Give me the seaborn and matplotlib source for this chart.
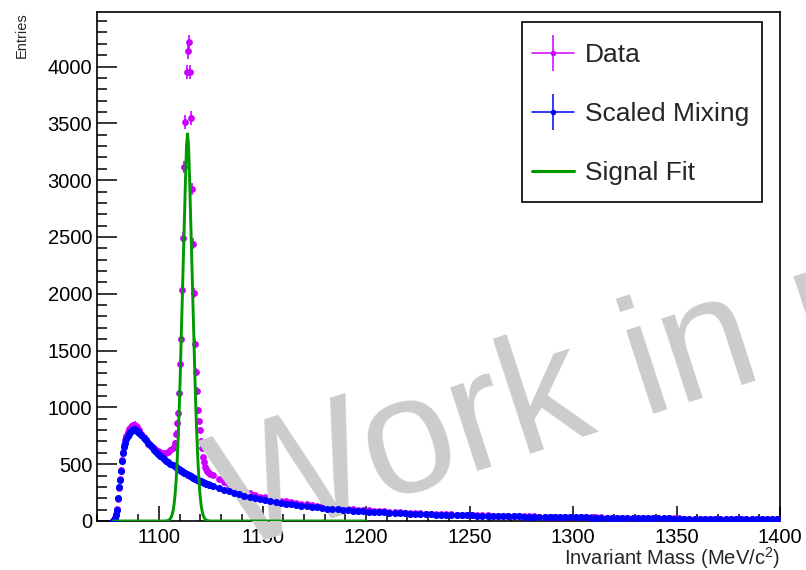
import numpy as np
import matplotlib
matplotlib.use("Agg")
import matplotlib.pyplot as plt
import seaborn as sns
from matplotlib.lines import Line2D
from matplotlib.legend_handler import HandlerTuple
from matplotlib.patches import Rectangle
from matplotlib.ticker import MultipleLocator

# ---------------- data (bin centres in MeV/c^2, entries) ----------------
mass_rise = np.arange(1077.75, 1090.0, 0.5)   # 25 bins, 0.5 MeV
mass_side = np.arange(1090.5, 1108.0, 1.0)    # 18 bins
mass_peak = np.arange(1108.25, 1125.0, 0.5)   # 34 bins
mass_tail = np.arange(1126.25, 1399.0, 2.5)   # 110 bins

data_rise = [2, 10, 28, 60, 110, 190, 290, 372, 452, 540,
             610, 668, 712, 752, 785, 806, 822, 830, 838, 846,
             840, 848, 832, 826, 810]
data_side = [800, 770, 741, 712, 680, 668, 655, 640, 626, 612,
             604, 596, 595, 600, 609, 622, 645, 690]
data_peak = [770, 859, 947, 1123, 1386, 1600, 2031, 2494, 3115, 3510,
             3950, 4134, 4214, 3950, 3546, 2925, 2441, 2007, 1562, 1313,
             1145, 976, 880, 800, 700, 640, 560, 520, 477, 455,
             440, 433, 420, 410]
data_tail = [402, 370, 345, 318, 300, 282, 262, 245, 232, 214,
             210, 198, 190, 178, 172, 166, 158, 150, 146, 138,
             133, 130, 122, 118, 116, 110, 106, 103, 99, 96,
             93, 89, 88, 84, 82, 79, 78, 74, 72, 70,
             68, 66, 65, 62, 61, 60, 58, 57, 55, 54,
             53, 51, 51, 49, 48, 47, 46, 45, 44, 43,
             42, 40, 41, 39, 38, 37, 38, 36, 35, 34,
             34, 33, 32, 32, 31, 31, 30, 30, 29, 29,
             28, 28, 27, 27, 26, 25, 26, 24, 24, 23,
             23, 22, 22, 21, 21, 21, 20, 20, 19, 19,
             19, 18, 18, 17, 17, 17, 16, 16, 16, 15]

mix_rise = [3, 12, 30, 55, 100, 200, 300, 365, 440, 525,
            598, 648, 690, 724, 750, 768, 782, 793, 800, 805,
            806, 803, 798, 792, 786]
mix_side = [775, 755, 733, 711, 689, 668, 647, 627, 609, 591,
            575, 559, 545, 531, 518, 505, 492, 480]
mix_peak = [474, 468, 462, 455, 449, 443, 437, 431, 425, 419,
            413, 408, 402, 397, 392, 387, 382, 377, 373, 368,
            364, 360, 356, 352, 348, 344, 340, 336, 333, 330,
            327, 323, 320, 317]
mix_tail = [309, 292, 277, 262, 248, 235, 223, 212, 202, 193,
            184, 176, 168, 161, 154, 147, 141, 135, 129, 124,
            119, 114, 110, 106, 102, 98, 95, 91, 88, 85,
            82, 80, 77, 75, 73, 71, 69, 67, 65, 63,
            62, 60, 59, 57, 56, 55, 53, 52, 51, 50,
            49, 48, 47, 46, 45, 44, 43, 42, 41, 40,
            39, 38, 38, 37, 36, 35, 35, 34, 33, 32,
            32, 31, 31, 30, 30, 29, 29, 28, 28, 27,
            27, 26, 26, 25, 25, 24, 24, 23, 23, 22,
            22, 21, 21, 20, 20, 20, 19, 19, 18, 18,
            18, 17, 17, 16, 16, 16, 15, 15, 15, 14]

fit_mass = [1078.0, 1102.75, 1103.75, 1104.75, 1105.25, 1105.75, 1106.25, 1106.75,
            1107.25, 1107.75, 1108.25, 1108.75, 1109.25, 1109.75, 1110.25, 1110.75,
            1111.25, 1111.75, 1112.25, 1112.75, 1113.25, 1113.75, 1114.25, 1114.75,
            1115.25, 1115.75, 1116.25, 1116.75, 1117.25, 1117.75, 1118.25, 1118.75,
            1119.25, 1119.75, 1120.25, 1120.75, 1121.25, 1121.75, 1122.25, 1122.75,
            1123.75, 1124.75, 1200.0]
fit_vals = [0, 0, 2, 8, 16, 30, 53, 90,
            149, 237, 362, 536, 744, 995, 1299, 1658,
            1980, 2335, 2663, 3008, 3303, 3408, 3303, 3008,
            2663, 2335, 1980, 1658, 1299, 995, 744, 536,
            362, 237, 149, 90, 53, 30, 16, 8,
            2, 0, 0]

labels = ["Data", "Scaled Mixing", "Signal Fit"]
xticks = [1100, 1150, 1200, 1250, 1300, 1350, 1400]
yticks = [0, 500, 1000, 1500, 2000, 2500, 3000, 3500, 4000]

# ---------------- styling ----------------
C_DATA = "#cc00ff"
C_MIX = "#0000ff"
C_FIT = "#009900"
WM = "#cccccc"

sns.set_theme(style="white")
plt.rcParams["font.family"] = ["Liberation Sans", "DejaVu Sans"]
plt.rcParams["mathtext.fontset"] = "custom"
plt.rcParams["mathtext.rm"] = "Liberation Sans"
plt.rcParams["mathtext.it"] = "Liberation Sans:italic"

mass = np.concatenate([mass_rise, mass_side, mass_peak, mass_tail])
data = np.concatenate([data_rise, data_side, data_peak, data_tail]).astype(float)
mix = np.concatenate([mix_rise, mix_side, mix_peak, mix_tail]).astype(float)

W, H = 806, 570
fig = plt.figure(figsize=(W / 100, H / 100), dpi=100)
ax = fig.add_axes([97 / W, 1 - 521 / H, (780 - 97) / W, (521 - 12) / H])
ax.set_facecolor("white")

# data with Poisson error bars
ax.errorbar(mass, data, yerr=np.sqrt(data), fmt="none", ecolor=C_DATA,
            elinewidth=1.2, capsize=0, zorder=2)
sns.scatterplot(x=mass, y=data, color=C_DATA, s=24, linewidth=0, ax=ax,
                zorder=2.1, legend=False)

# watermark
ax.text(0.288, 0.034, "Work in progress", transform=fig.transFigure,
        rotation=18, rotation_mode="anchor", ha="left", va="baseline",
        fontsize=120, color=WM, zorder=3, clip_on=False)

sns.scatterplot(x=mass, y=mix, color=C_MIX, s=26, linewidth=0, ax=ax,
                zorder=4, legend=False)
sns.lineplot(x=fit_mass, y=fit_vals, color=C_FIT, linewidth=2.1, ax=ax,
             zorder=5, legend=False)

ax.set_xlim(1070, 1400)
ax.set_ylim(0, 4480)
ax.set_xticks(xticks)
ax.set_yticks(yticks)
ax.xaxis.set_minor_locator(MultipleLocator(10))
ax.yaxis.set_minor_locator(MultipleLocator(100))
ax.set_axisbelow(True)
ax.tick_params(axis="both", which="both", direction="in", top=False,
               right=False, bottom=True, left=True, labelsize=14.5,
               width=1.1, color="black", labelcolor="black")
ax.tick_params(axis="x", which="major", length=10.8, pad=5.0)
ax.tick_params(axis="x", which="minor", length=5.4)
ax.tick_params(axis="y", which="major", length=14.4, pad=3.4)
ax.tick_params(axis="y", which="minor", length=7.2)
for sp in ax.spines.values():
    sp.set_visible(True)
    sp.set_color("black")
    sp.set_linewidth(1.2)
    sp.set_zorder(1)

ax.set_xlabel("Invariant Mass (MeV/c$^{2}$)", fontsize=14.5, loc="right")
ax.xaxis.set_label_coords(1.0, -0.0475)
ax.set_ylabel("Entries", fontsize=10.5, loc="top")
ax.yaxis.set_label_coords(-0.10, 1.0)

# legend
h_data = (Line2D([], [], color=C_DATA, lw=1.1, marker="|", markersize=26,
                 markeredgewidth=1.1),
          Line2D([], [], color=C_DATA, ls="none", marker="o", markersize=4,
                 markeredgewidth=0))
h_mix = (Line2D([], [], color=C_MIX, lw=1.1, marker="|", markersize=26,
                markeredgewidth=1.1),
         Line2D([], [], color=C_MIX, ls="none", marker="o", markersize=4,
                markeredgewidth=0))
h_fit = Line2D([], [], color=C_FIT, lw=2.2)

box = Rectangle((0.622, 0.6267), 0.9737 - 0.622, 0.980 - 0.6267,
                transform=ax.transAxes, facecolor="white", edgecolor="black",
                linewidth=1.2, zorder=6)
ax.add_patch(box)
leg = ax.legend([h_data, h_mix, h_fit], labels,
                handler_map={tuple: HandlerTuple(ndivide=1)},
                loc="upper left", bbox_to_anchor=(0.6369, 0.9395),
                bbox_transform=ax.transAxes, frameon=False, borderpad=0,
                borderaxespad=0, handlelength=1.6, handletextpad=0.4,
                labelspacing=1.33, fontsize=19)
leg.set_zorder(7)

fig.savefig("out.png", dpi=100)
